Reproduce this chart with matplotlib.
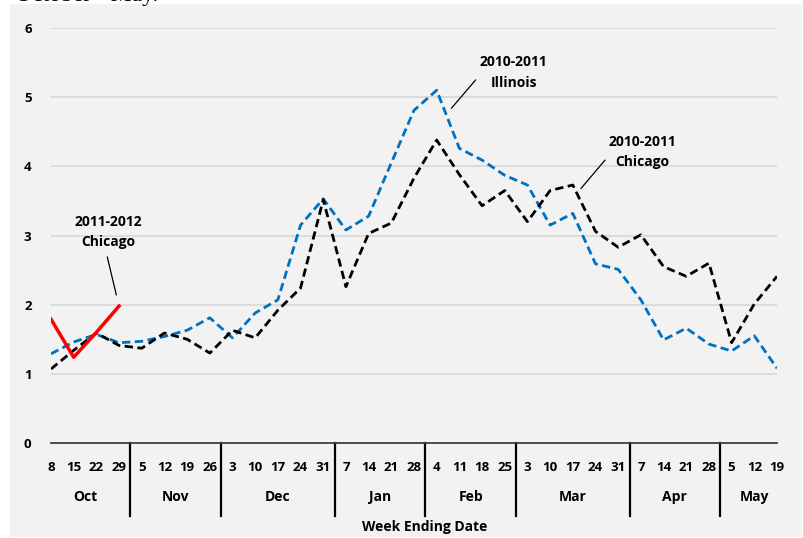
import matplotlib
matplotlib.use('Agg')
import matplotlib.pyplot as plt
from matplotlib.patches import Rectangle

# week-ending days, Oct 2010 -> May 2011
days = [8, 15, 22, 29, 5, 12, 19, 26, 3, 10, 17, 24, 31, 7, 14, 21, 28,
        4, 11, 18, 25, 3, 10, 17, 24, 31, 7, 14, 21, 28, 5, 12, 19]
months = ['Oct', 'Nov', 'Dec', 'Jan', 'Feb', 'Mar', 'Apr', 'May']
weeks_per_month = [4, 4, 5, 4, 4, 5, 4, 3]

illinois_1011 = [1.29, 1.46, 1.57, 1.45, 1.47, 1.54, 1.63, 1.81, 1.52, 1.88, 2.07,
                 3.15, 3.53, 3.08, 3.28, 4.05, 4.81, 5.10, 4.26, 4.09, 3.87, 3.73,
                 3.15, 3.32, 2.59, 2.51, 2.07, 1.49, 1.66, 1.43, 1.33, 1.55, 1.08]
chicago_1011 = [1.07, 1.34, 1.59, 1.41, 1.37, 1.59, 1.50, 1.30, 1.63, 1.52, 1.92,
                2.24, 3.52, 2.26, 3.03, 3.18, 3.83, 4.38, 3.88, 3.43, 3.65, 3.20,
                3.65, 3.73, 3.06, 2.83, 3.01, 2.55, 2.41, 2.60, 1.45, 2.01, 2.41]
chicago_1112 = [1.79, 1.24, 1.60, 1.98]

plt.rcParams['font.family'] = ['Open Sans', 'DejaVu Sans']

fig = plt.figure(figsize=(8.04, 5.38), dpi=100)
fig.patch.set_facecolor('white')
fig.patches.append(Rectangle((10 / 804, 1 / 538), 792 / 804, 533 / 538,
                             transform=fig.transFigure, facecolor='#f2f2f2',
                             edgecolor='none', zorder=-10))
# title is cut off at the top edge in the original
fig.text(15 / 804, 1 - 1.5 / 538, 'October - May.', family='Liberation Serif',
         fontsize=17, va='baseline', ha='left')

ax = fig.add_axes([51 / 804, 1 - 443 / 538, 726 / 804, 415 / 538])
ax.set_facecolor('none')

x = list(range(len(days)))
ax.plot(x, illinois_1011, color='#0070c0', lw=2, dashes=(3, 1.6))
ax.plot(x, chicago_1011, color='black', lw=2, dashes=(3, 1.6))
ax.plot(x[:len(chicago_1112)], chicago_1112, color='#ff0000', lw=2.5)

ax.set_xlim(0, len(days) - 1)
ax.set_ylim(0, 6)
ax.set_yticks(range(7))
ax.set_yticklabels([str(v) for v in range(7)], fontweight='bold', fontsize=9.5)
ax.tick_params(axis='y', length=0, pad=14)
ax.grid(axis='y', color='#d9d9d9', lw=1.3)
ax.set_axisbelow(True)
for s in ['top', 'right', 'left']:
    ax.spines[s].set_visible(False)
ax.spines['bottom'].set_color('#404040')
ax.spines['bottom'].set_linewidth(1.3)

ax.set_xticks(x)
ax.set_xticklabels([str(d) for d in days], fontweight='bold', fontsize=9.5)
ax.tick_params(axis='x', length=0, pad=13)

# month separators and names
trans = ax.get_xaxis_transform()
start = 0
for i, (m, n) in enumerate(zip(months, weeks_per_month)):
    ax.text(start + (n - 1) / 2, -0.13, m, transform=trans, ha='center',
            va='center', fontweight='bold', fontsize=10)
    if i < len(months) - 1:
        ax.plot([start + n - 0.5] * 2, [0, -0.175], transform=trans,
                color='black', lw=1.6, clip_on=False)
    start += n

fig.text(425 / 804, 1 - 527 / 538, 'Week Ending Date', ha='center', va='center',
         fontweight='bold', fontsize=10)

# series labels with leader lines
labels = [('2011-2012\nChicago', (2.52, 3.05), (2.48, 2.69), (2.88, 2.14)),
          ('2010-2011\nIllinois', (20.4, 5.36), (18.72, 5.25), (17.65, 4.84)),
          ('2010-2011\nChicago', (26.06, 4.21), (24.42, 4.09), (23.36, 3.68))]
for txt, pos, p0, p1 in labels:
    ax.text(pos[0], pos[1], txt, ha='center', va='center', fontweight='bold',
            fontsize=10, linespacing=1.6)
    ax.annotate('', xy=p1, xytext=p0,
                arrowprops=dict(arrowstyle='-', color='black', lw=0.9,
                                shrinkA=0, shrinkB=0))

fig.savefig('out.png', dpi=100)
